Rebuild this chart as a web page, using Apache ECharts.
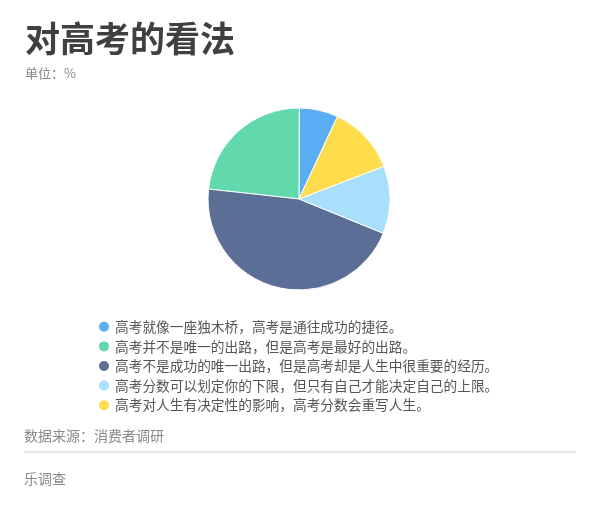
<!DOCTYPE html>
<html>
<head>
<meta charset="utf-8">
<script src="https://cdn.jsdelivr.net/npm/echarts@6/dist/echarts.min.js"></script>
<style>
html,body{margin:0;padding:0;background:#fff;}
#main{width:600px;height:510px;}
</style>
</head>
<body>
<div id="main"></div>
<script>
var categories = [
  '高考就像一座独木桥，高考是通往成功的捷径。',
  '高考并不是唯一的出路，但是高考是最好的出路。',
  '高考不是成功的唯一出路，但是高考却是人生中很重要的经历。',
  '高考分数可以划定你的下限，但只有自己才能决定自己的上限。',
  '高考对人生有决定性的影响，高考分数会重写人生。'
];
var values = [6.9, 23.3, 45.6, 12.0, 12.2];
var colors = ['#5AAEF3', '#62D9AD', '#5B6E96', '#A8DFFA', '#FFDC4C'];

var font = '"Noto Sans CJK SC", "Noto Sans", sans-serif';
var chart = echarts.init(document.getElementById('main'));
var data = categories.map(function (c, i) {
  return { name: c, value: values[i], itemStyle: { color: colors[i] } };
});
chart.setOption({
  backgroundColor: '#fff',
  animation: false,
  title: {
    text: '对高考的看法',
    subtext: '单位：%',
    left: 20,
    top: 16,
    itemGap: 11,
    textStyle: { fontFamily: font, fontSize: 35, fontWeight: 'bold', color: '#404040' },
    subtextStyle: { fontFamily: font, fontSize: 13, color: '#888' }
  },
  legend: {
    orient: 'vertical',
    left: 92,
    top: 312,
    icon: 'circle',
    itemWidth: 12,
    itemHeight: 12,
    itemGap: 0,
    textStyle: { fontFamily: font, fontSize: 13.7, lineHeight: 19.6, color: '#555' },
    data: categories
  },
  graphic: [
    { type: 'text', left: 24, top: 429, style: { text: '数据来源：消费者调研', fontFamily: font, fontSize: 14, fill: '#888' } },
    { type: 'line', shape: { x1: 24, y1: 452, x2: 576, y2: 452 }, style: { stroke: '#ccc', lineWidth: 1 } },
    { type: 'text', left: 24, top: 472, style: { text: '乐调查', fontFamily: font, fontSize: 14, fill: '#888' } }
  ],
  series: [{
    type: 'pie',
    center: [299, 199],
    radius: 91,
    clockwise: false,
    startAngle: 65,
    label: { show: false },
    labelLine: { show: false },
    itemStyle: { borderColor: '#fff', borderWidth: 1 },
    data: data
  }]
});
</script>
</body>
</html>
